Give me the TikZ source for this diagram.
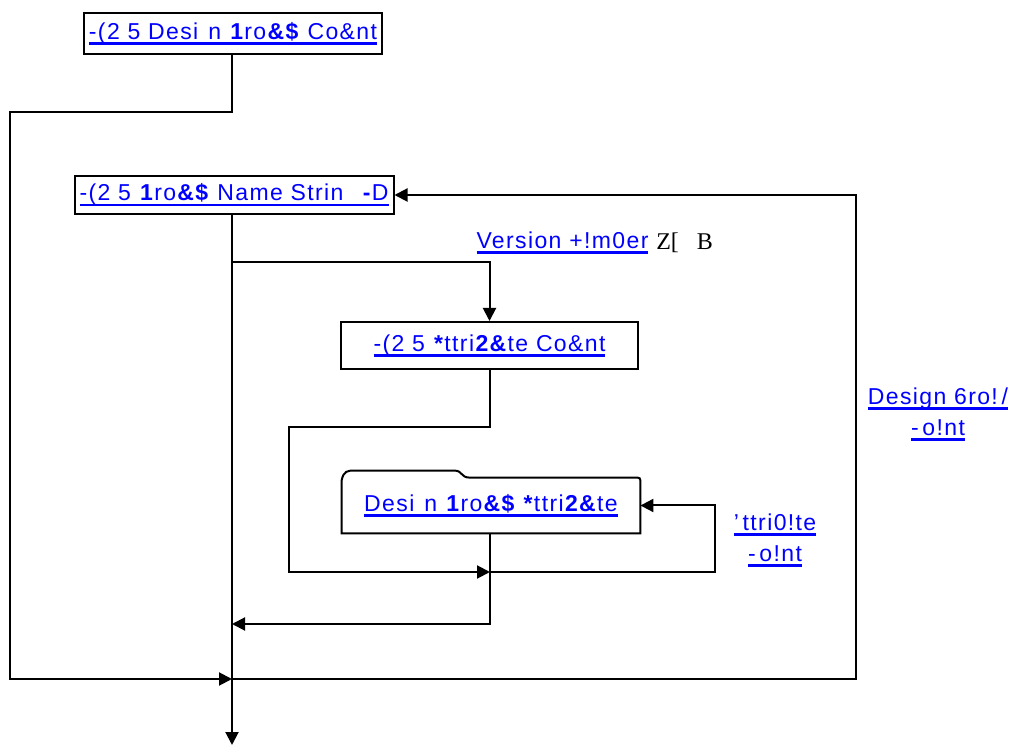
\documentclass[tikz,border=0pt]{standalone}
\usepackage{fontspec}
\setmainfont{Liberation Sans}[LetterSpace=6]
\newfontfamily\serifface{Liberation Serif}
\usetikzlibrary{arrows.meta,positioning,calc}
\definecolor{linkblue}{RGB}{0,0,255}
\newcommand{\lnk}[1]{\setbox0=\hbox{#1}\leavevmode\rlap{\rule[-2.8pt]{\wd0}{1.4pt}}\box0}
\tikzset{
  blk/.style={draw=black, line width=1pt, fill=white, inner sep=0pt,
              text=linkblue, font=\fontsize{11.5}{13}\selectfont},
  tabblk/.style={fill=white, inner sep=0pt, text=linkblue,
              font=\fontsize{11.5}{13}\selectfont},
  wire/.style={line width=1pt},
  flw/.style={-{Triangle[length=6.5pt,width=6.5pt]}, line width=1pt},
  lbl/.style={text=linkblue, align=center, inner sep=0pt,
              font=\fontsize{11.5}{15.5}\selectfont},
  plain/.style={inner sep=0pt, font=\serifface\fontsize{12}{13}\selectfont},
}

\begin{document}
\begin{tikzpicture}[x=0.5pt, y=-0.5pt]
    \useasboundingbox (0,0) rectangle (1016,747);
    % boxes
    \node[blk, minimum width=149pt, minimum height=20.5pt] (cnt) at (233,33.5)
      {\lnk{-(2 5 Desi\hspace{5pt}n \textbf{1}ro\textbf{\&\$} Co\&nt}};
    \node[blk, minimum width=159.5pt, minimum height=19pt] (nam) at (234,195)
      {\lnk{-(2 5 \textbf{1}ro\textbf{\&\$} Name Strin\hspace{9pt}\textbf{-}D}};
    \node[blk, minimum width=148.5pt, minimum height=23.5pt] (att) at (489.5,345.5)
      {\lnk{-(2 5 \textbf{*}ttri\textbf{2\&}te Co\&nt}};
    \node[tabblk, minimum width=149pt, minimum height=27.5pt] (dpa) at (491,505.5)
      {\lnk{Desi\hspace{5pt}n \textbf{1}ro\textbf{\&\$} \textbf{*}ttri\textbf{2\&}te}};
    \draw[wire] (dpa.south west) -- ($(dpa.north west)+(0,3)$)
      .. controls ($(dpa.north west)+(2,-7)$) and ($(dpa.north west)+(6,-7)$) .. ($(dpa.north west)+(13,-7)$)
      -- ($(dpa.north west)+(113,-7)$)
      .. controls ($(dpa.north west)+(121,-7)$) and ($(dpa.north west)+(119,0)$) .. ($(dpa.north west)+(128,0)$)
      -- ($(dpa.north east)+(-6,0)$)
      .. controls ($(dpa.north east)+(0,0)$) .. ($(dpa.north east)+(0,6)$)
      -- (dpa.south east) -- cycle;
    % labels
    \node[lbl] (ver) at (562.5,243) {\lnk{Version +!m0er}};
    \node[plain, right=3.5pt of ver] (vnum) {Z[\hspace{9pt}B};
    \node[lbl] (apt) at (775,540) {\lnk{'\,ttri0!te}\\\lnk{-\,o!nt}};
    \node[lbl] (gpt) at (938,414) {\lnk{Design 6ro!\,/}\\\lnk{-\,o!nt}};
    % junctions
    \coordinate (lft) at (10,112);
    \coordinate (mrg) at (232,679);
    \coordinate (out) at (232,745);
    \coordinate (brn) at (232,262);
    \coordinate (cl) at (289,427);
    \coordinate (mc) at (490,572);
    \coordinate (ar) at (715,572);
    \coordinate (ret) at (232,624);
    \coordinate (gl) at (856,679);
    % connectors
    \draw[flw] (cnt.south -| mrg) |- (lft) |- (mrg);
    \draw[flw] (nam.south -| out) -- (out);
    \draw[flw] (brn) -| (att.north);
    \draw[flw] (att.south -| mc) |- (cl) |- (mc);
    \draw[flw] (mc) -- (ar) |- (dpa.east);
    \draw[flw] (dpa.south -| mc) |- (ret);
    \draw[flw] (mrg) -- (gl) |- (nam.east);
\end{tikzpicture}
\end{document}
